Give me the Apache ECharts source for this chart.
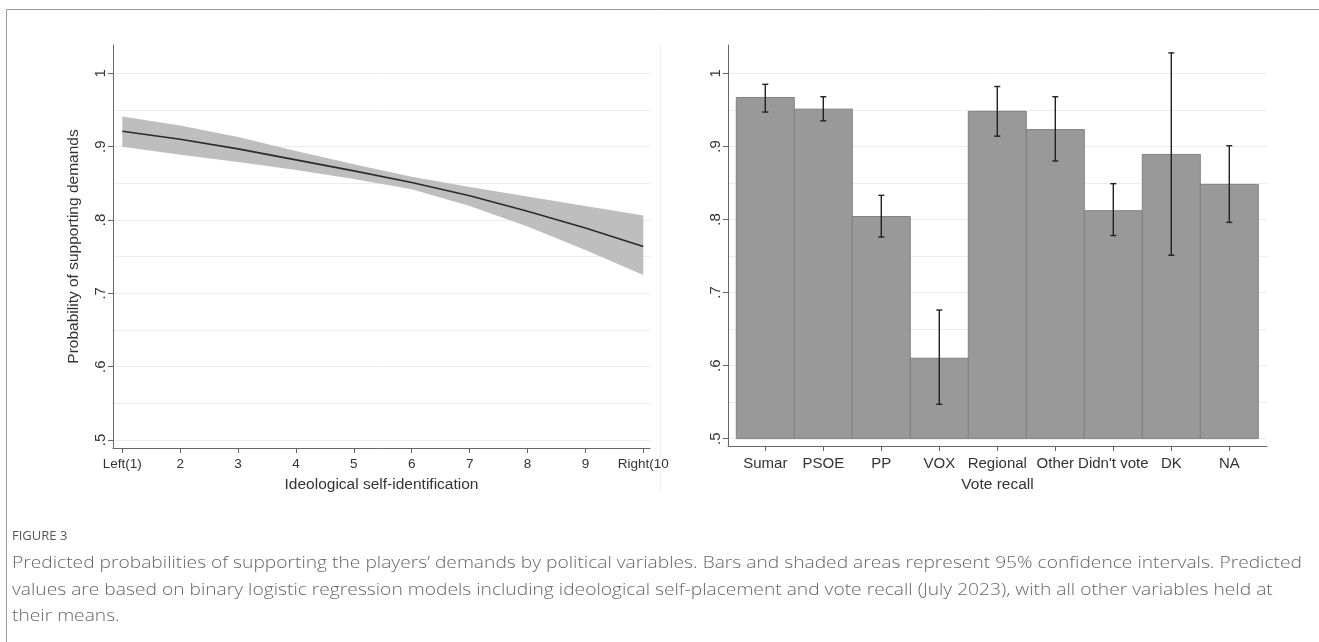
<!DOCTYPE html>
<html>
<head>
<meta charset="utf-8">
<script src="https://cdn.jsdelivr.net/npm/echarts@6/dist/echarts.min.js"></script>
<style>
html, body { margin: 0; padding: 0; background: #fff; }
#chart { width: 1319px; height: 642px; }
</style>
</head>
<body>
<div id="chart"></div>
<script>
// left panel - ideological self-identification
var ideoPos = [1, 2, 3, 4, 5, 6, 7, 8, 9, 10];
var ideoLabels = ['Left(1)', '2', '3', '4', '5', '6', '7', '8', '9', 'Right(10'];
var ideoFit = [0.921, 0.910, 0.897, 0.882, 0.867, 0.851, 0.833, 0.812, 0.789, 0.764];
var ideoUpper = [0.941, 0.929, 0.913, 0.894, 0.876, 0.859, 0.845, 0.832, 0.819, 0.806];
var ideoLower = [0.900, 0.889, 0.879, 0.868, 0.856, 0.842, 0.819, 0.791, 0.759, 0.725];

// right panel - vote recall
var voteCats = ['Sumar', 'PSOE', 'PP', 'VOX', 'Regional', 'Other', "Didn't vote", 'DK', 'NA'];
var voteProb = [0.967, 0.951, 0.804, 0.610, 0.948, 0.923, 0.812, 0.889, 0.848];
var voteHigh = [0.985, 0.968, 0.833, 0.676, 0.982, 0.968, 0.849, 1.028, 0.901];
var voteLow = [0.947, 0.935, 0.776, 0.547, 0.914, 0.880, 0.778, 0.751, 0.796];
var barBase = 0.5;

// y axis ticks / gridlines
var yTicks = [0.5, 0.6, 0.7, 0.8, 0.9, 1];
var yTickLabels = ['.5', '.6', '.7', '.8', '.9', '1'];
var yGrid = [0.5, 0.55, 0.6, 0.65, 0.7, 0.75, 0.8, 0.85, 0.9, 0.95, 1];

var captionHead = 'FIGURE 3';
var captionLines = [
  'Predicted probabilities of supporting the players\u2019 demands by political variables. Bars and shaded areas represent 95% confidence intervals. Predicted',
  'values are based on binary logistic regression models including ideological self-placement and vote recall (July 2023), with all other variables held at',
  'their means.'
];

var font = 'Liberation Sans, Arial, sans-serif';
var axisColor = '#666';
var textColor = '#333';
var voteTicks = voteCats.map(function (c, i) { return i + 1; });

function yLabel(v) {
  var i = yTicks.indexOf(Math.round(v * 10) / 10);
  return i < 0 ? '' : yTickLabels[i];
}

function mainY(grid, min, max, name) {
  return {
    type: 'value', gridIndex: grid, min: min, max: max, position: 'left',
    name: name, nameLocation: 'middle', nameGap: 31,
    nameTextStyle: { fontFamily: font, fontSize: 15.5, color: textColor },
    axisLine: { show: true, lineStyle: { color: axisColor, width: 1 } },
    axisTick: { show: true, length: 5, customValues: yTicks, lineStyle: { color: axisColor } },
    axisLabel: { customValues: yTicks, rotate: 90, margin: 5, fontFamily: font, fontSize: 15, color: textColor, formatter: yLabel },
    splitLine: { show: false }
  };
}

function gridY(grid, min, max) {
  return {
    type: 'value', gridIndex: grid, min: min, max: max, position: 'left',
    axisLine: { show: false },
    axisTick: { show: false, customValues: yGrid },
    axisLabel: { show: false },
    splitLine: { show: true, lineStyle: { color: '#ececec', width: 1 } }
  };
}

var chart = echarts.init(document.getElementById('chart'));

var capFont = '300 17px "Open Sans"';
var capScale = 1.13;

var option = {
  animation: false,
  backgroundColor: '#fff',
  grid: [
    { left: 113, top: 45, width: 537, height: 403 },
    { left: 728, top: 45, width: 539, height: 401 }
  ],
  xAxis: [
    {
      type: 'value', gridIndex: 0, min: 0.839, max: 10.116,
      name: 'Ideological self-identification', nameLocation: 'middle', nameGap: 29,
      nameTextStyle: { fontFamily: font, fontSize: 15.5, color: textColor },
      axisLine: { show: true, lineStyle: { color: axisColor } },
      axisTick: { show: true, length: 5, customValues: ideoPos, lineStyle: { color: axisColor } },
      axisLabel: {
        customValues: ideoPos, margin: 9, fontFamily: font, fontSize: 13.5, color: textColor,
        formatter: function (v) { return ideoLabels[ideoPos.indexOf(Math.round(v))]; }
      },
      splitLine: { show: false }
    },
    {
      type: 'value', gridIndex: 1, min: 0.357, max: 9.65,
      name: 'Vote recall', nameLocation: 'middle', nameGap: 31,
      nameTextStyle: { fontFamily: font, fontSize: 15.5, color: textColor },
      axisLine: { show: true, lineStyle: { color: axisColor } },
      axisTick: { show: true, length: 5, customValues: voteTicks, lineStyle: { color: axisColor } },
      axisLabel: {
        customValues: voteTicks, margin: 10,
        fontFamily: font, fontSize: 15, color: textColor,
        formatter: function (v) { return voteCats[Math.round(v) - 1]; }
      },
      splitLine: { show: false }
    }
  ],
  yAxis: [
    mainY(0, 0.4891, 1.0386, 'Probability of supporting demands'),
    gridY(0, 0.4891, 1.0386),
    mainY(1, 0.4899, 1.0388, ''),
    gridY(1, 0.4899, 1.0388)
  ],
  graphic: [
    { type: 'rect', silent: true, shape: { x: 6.5, y: 9.5, width: 1340, height: 700 }, style: { fill: 'none', stroke: '#9a9a9a', lineWidth: 1 } },
    { type: 'line', silent: true, shape: { x1: 660.5, y1: 43, x2: 660.5, y2: 493 }, style: { stroke: '#f2f2f2', lineWidth: 1 } },
    { type: 'text', x: 12, y: 530, style: { text: captionHead, font: '13px "Open Sans"', fill: '#555' } },
    { type: 'text', x: 12, y: 555, scaleX: capScale, style: { text: captionLines[0], font: capFont, fill: '#666' } },
    { type: 'text', x: 12, y: 582, scaleX: capScale, style: { text: captionLines[1], font: capFont, fill: '#666' } },
    { type: 'text', x: 12, y: 608, scaleX: capScale, style: { text: captionLines[2], font: capFont, fill: '#666' } }
  ],
  series: [
    {
      name: 'ci-band', type: 'custom', xAxisIndex: 0, yAxisIndex: 0, silent: true,
      data: ideoPos.map(function (x, i) { return [x, ideoLower[i], ideoUpper[i]]; }),
      encode: { x: 0, y: [1, 2] },
      renderItem: function (params, api) {
        if (params.dataIndexInside !== 0) return;
        var up = [], low = [];
        for (var i = 0; i < params.dataInsideLength; i++) {
          up.push(api.coord([api.value(0, i), api.value(2, i)]));
          low.unshift(api.coord([api.value(0, i), api.value(1, i)]));
        }
        return { type: 'polygon', shape: { points: up.concat(low) }, style: { fill: '#bebebe' } };
      }
    },
    {
      name: 'fit', type: 'line', xAxisIndex: 0, yAxisIndex: 0,
      data: ideoPos.map(function (x, i) { return [x, ideoFit[i]]; }),
      symbol: 'none', silent: true, lineStyle: { color: '#2b2b2b', width: 1.6 }, z: 5
    },
    {
      name: 'bars', type: 'custom', xAxisIndex: 1, yAxisIndex: 2,
      data: voteProb.map(function (v, i) { return [i + 1, v]; }),
      encode: { x: 0, y: 1 },
      renderItem: function (params, api) {
        var x = api.value(0), v = api.value(1);
        var p0 = api.coord([x - 0.5, barBase]);
        var p1 = api.coord([x + 0.5, v]);
        return {
          type: 'rect',
          shape: { x: p0[0], y: p1[1], width: p1[0] - p0[0], height: p0[1] - p1[1] },
          style: { fill: '#999999', stroke: '#808080', lineWidth: 1 }
        };
      }
    },
    {
      name: 'ci', type: 'custom', xAxisIndex: 1, yAxisIndex: 2, z: 5,
      data: voteProb.map(function (v, i) { return [i + 1, voteLow[i], voteHigh[i]]; }),
      encode: { x: 0, y: [1, 2] },
      renderItem: function (params, api) {
        var x = api.value(0);
        var lo = api.coord([x, api.value(1)]);
        var hi = api.coord([x, api.value(2)]);
        var cap = 3;
        var st = { stroke: '#222', lineWidth: 1.4 };
        return {
          type: 'group',
          children: [
            { type: 'line', shape: { x1: lo[0], y1: lo[1], x2: hi[0], y2: hi[1] }, style: st },
            { type: 'line', shape: { x1: lo[0] - cap, y1: lo[1], x2: lo[0] + cap, y2: lo[1] }, style: st },
            { type: 'line', shape: { x1: hi[0] - cap, y1: hi[1], x2: hi[0] + cap, y2: hi[1] }, style: st }
          ]
        };
      }
    }
  ]
};

chart.setOption(option);
</script>
</body>
</html>
